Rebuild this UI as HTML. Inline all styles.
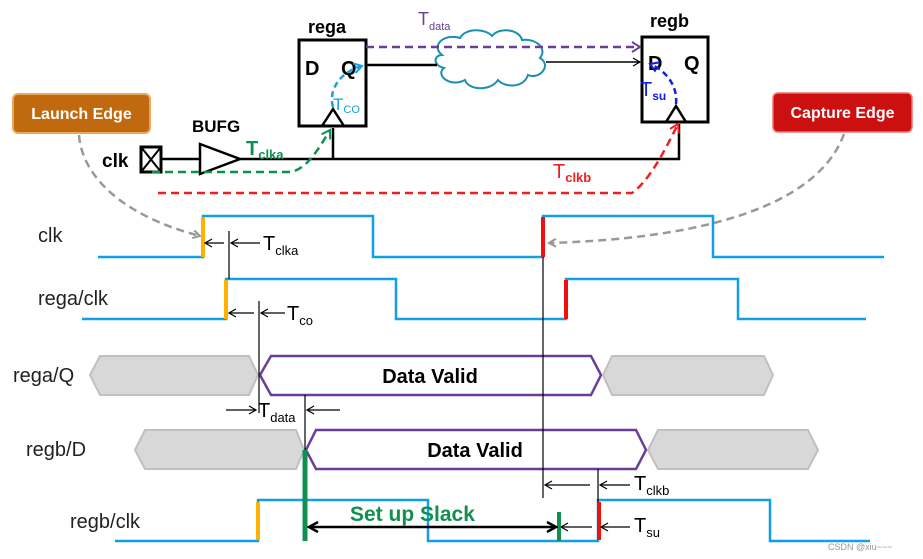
<!DOCTYPE html>
<html><head><meta charset="utf-8"><style>
html,body{margin:0;padding:0;background:#fff;}
svg{display:block;font-family:"Liberation Sans",sans-serif;}
</style></head><body>
<svg width="923" height="559" viewBox="0 0 923 559" xmlns="http://www.w3.org/2000/svg">
<defs>
<marker id="ag" markerWidth="10" markerHeight="10" refX="8" refY="5" orient="auto" markerUnits="userSpaceOnUse"><path d="M1,1 L8,5 L1,9" fill="none" stroke="#999" stroke-width="2"/></marker>
<marker id="akb" markerWidth="12" markerHeight="12" refX="10" refY="6" orient="auto-start-reverse" markerUnits="userSpaceOnUse"><path d="M1,1 L10,6 L1,11" fill="none" stroke="#000" stroke-width="2.5"/></marker>
<marker id="akr" markerWidth="10" markerHeight="10" refX="8" refY="5" orient="auto" markerUnits="userSpaceOnUse"><path d="M1,1 L8,5 L1,9" fill="none" stroke="#000" stroke-width="1.2"/></marker>
<marker id="ap" markerWidth="12" markerHeight="12" refX="9" refY="6" orient="auto" markerUnits="userSpaceOnUse"><path d="M1,1 L9,6 L1,11" fill="none" stroke="#6a3d9a" stroke-width="2"/></marker>
<marker id="agr" markerWidth="12" markerHeight="12" refX="9" refY="6" orient="auto" markerUnits="userSpaceOnUse"><path d="M1,1 L9,6 L1,11" fill="none" stroke="#109050" stroke-width="2"/></marker>
<marker id="ar" markerWidth="12" markerHeight="12" refX="9" refY="6" orient="auto" markerUnits="userSpaceOnUse"><path d="M1,1 L9,6 L1,11" fill="none" stroke="#f02020" stroke-width="2"/></marker>
<marker id="ac" markerWidth="12" markerHeight="12" refX="9" refY="6" orient="auto" markerUnits="userSpaceOnUse"><path d="M1,1 L9,6 L1,11" fill="none" stroke="#1aa0e0" stroke-width="2"/></marker>
<marker id="ab" markerWidth="12" markerHeight="12" refX="9" refY="6" orient="auto" markerUnits="userSpaceOnUse"><path d="M1,1 L9,6 L1,11" fill="none" stroke="#1020e0" stroke-width="2"/></marker>
</defs>

<text x="308" y="33" font-size="18" font-weight="bold">rega</text>
<rect x="299" y="40" width="67" height="86" fill="#fff" stroke="#000" stroke-width="3"/>
<text x="305" y="75" font-size="20" font-weight="bold">D</text>
<text x="341" y="75" font-size="20" font-weight="bold">Q</text>
<path d="M322,126 L333,109 L344,126" fill="none" stroke="#000" stroke-width="2.5"/>

<text x="650" y="27" font-size="18" font-weight="bold">regb</text>
<rect x="642" y="37" width="66" height="85" fill="#fff" stroke="#000" stroke-width="3"/>
<text x="648" y="70" font-size="20" font-weight="bold">D</text>
<text x="684" y="70" font-size="20" font-weight="bold">Q</text>
<path d="M666,122 L676,106 L686,122" fill="none" stroke="#000" stroke-width="2.5"/>

<path d="M442,55 C430,45 445,33 460,38 C465,28 485,28 492,36 C500,26 520,30 522,40 C535,38 548,48 540,58 C552,65 540,80 528,75 C524,88 505,88 498,80 C490,92 468,90 465,80 C450,88 435,75 444,68 C432,65 434,55 442,55 Z" fill="#fff" stroke="#1a8fb0" stroke-width="2"/>

<line x1="366" y1="65" x2="437" y2="65" stroke="#000" stroke-width="2.5"/>
<line x1="546" y1="62" x2="640" y2="62" stroke="#000" stroke-width="1.5" marker-end="url(#akr)"/>
<line x1="366" y1="47" x2="640" y2="47" stroke="#6a3d9a" stroke-width="2.5" stroke-dasharray="8,5" marker-end="url(#ap)"/>
<text x="418" y="25" font-size="18" fill="#6a3d9a">T<tspan font-size="11" dy="5">data</tspan></text>

<rect x="141" y="147" width="20" height="25" fill="#fff" stroke="#000" stroke-width="3"/>
<path d="M141,147 L161,172 M161,147 L141,172" stroke="#000" stroke-width="2"/>
<text x="102" y="167" font-size="19" font-weight="bold">clk</text>
<line x1="161" y1="159" x2="200" y2="159" stroke="#000" stroke-width="2.5"/>
<path d="M200,144 L240,159 L200,174 Z" fill="#fff" stroke="#000" stroke-width="2.5"/>
<text x="192" y="132" font-size="17" font-weight="bold">BUFG</text>
<path d="M240,159 L679,159 L679,124" fill="none" stroke="#000" stroke-width="2.5"/>
<line x1="333" y1="159" x2="333" y2="128" stroke="#000" stroke-width="2.5"/>

<path d="M152,172 L288,172 C305,172 318,150 330,130" fill="none" stroke="#109050" stroke-width="2.5" stroke-dasharray="8,5" marker-end="url(#agr)"/>
<text x="246" y="155" font-size="20" font-weight="bold" fill="#109050">T<tspan font-size="13" dy="4">clka</tspan></text>

<path d="M333,107 C328,90 340,72 362,66" fill="none" stroke="#1aa0e0" stroke-width="2.5" stroke-dasharray="6,4" marker-end="url(#ac)"/>
<text x="333" y="110" font-size="17" fill="#1aa0e0">T<tspan font-size="11" dy="3">CO</tspan></text>

<path d="M676,104 C678,85 665,70 650,64" fill="none" stroke="#1020e0" stroke-width="2.5" stroke-dasharray="6,4" marker-end="url(#ab)"/>
<text x="640" y="96" font-size="20" fill="#1020e0">T<tspan font-size="12" dy="4" font-weight="bold">su</tspan></text>

<path d="M158,193 L632,193 C650,180 665,150 678,124" fill="none" stroke="#f02020" stroke-width="2.5" stroke-dasharray="8,5" marker-end="url(#ar)"/>
<text x="553" y="178" font-size="20" fill="#f02020">T<tspan font-size="13" dy="4" font-weight="bold">clkb</tspan></text>

<rect x="13" y="94" width="137" height="39" rx="5" fill="#c0690f" stroke="#e8a860" stroke-width="2"/>
<text x="81.5" y="119" font-size="16" font-weight="bold" fill="#fff" text-anchor="middle">Launch Edge</text>
<rect x="773" y="93" width="139" height="39" rx="5" fill="#cc1010" stroke="#f07070" stroke-width="1.5"/>
<text x="842.5" y="118" font-size="16" font-weight="bold" fill="#fff" text-anchor="middle">Capture Edge</text>

<path d="M79,135 C82,175 120,215 200,236" fill="none" stroke="#999" stroke-width="2.5" stroke-dasharray="8,5" marker-end="url(#ag)"/>
<path d="M844,134 C820,200 720,238 549,243" fill="none" stroke="#999" stroke-width="2.5" stroke-dasharray="8,5" marker-end="url(#ag)"/>

<g font-size="20" fill="#222">
<text x="38" y="242">clk</text>
<text x="38" y="305">rega/clk</text>
<text x="13" y="382">rega/Q</text>
<text x="26" y="456">regb/D</text>
<text x="70" y="528">regb/clk</text>
</g>

<path d="M98,257 L203,257 L203,216 L373,216 L373,257 L543,257 L543,216 L713,216 L713,257 L884,257" fill="none" stroke="#10a0e8" stroke-width="2.5"/>
<line x1="203" y1="217" x2="203" y2="257" stroke="#ffb000" stroke-width="4"/>
<line x1="543" y1="217" x2="543" y2="257" stroke="#f01010" stroke-width="4"/>
<path d="M82,319 L226,319 L226,279 L396,279 L396,319 L566,319 L566,279 L738,279 L738,319 L866,319" fill="none" stroke="#10a0e8" stroke-width="2.5"/>
<line x1="226" y1="280" x2="226" y2="319" stroke="#ffb000" stroke-width="4"/>
<line x1="566" y1="280" x2="566" y2="319" stroke="#f01010" stroke-width="4"/>
<path d="M115,541 L258,541 L258,500 L428,500 L428,541 L598,541 L598,500 L770,500 L770,541 L870,541" fill="none" stroke="#10a0e8" stroke-width="2.5"/>
<line x1="258" y1="502" x2="258" y2="540" stroke="#ffb000" stroke-width="4"/>
<line x1="599" y1="502" x2="599" y2="540" stroke="#f01010" stroke-width="4"/>

<polygon points="90,375 100,356 249,356 258,375 249,395 100,395" fill="#d8d8d8" stroke="#c0c0c0" stroke-width="2"/>
<polygon points="260,375 271,356 591,356 601,375 591,395 271,395" fill="#fff" stroke="#6a3d9a" stroke-width="2.5"/>
<text x="430" y="383" font-size="20" font-weight="bold" text-anchor="middle">Data Valid</text>
<polygon points="603,375 612,356 764,356 773,375 764,395 612,395" fill="#d8d8d8" stroke="#c0c0c0" stroke-width="2"/>
<polygon points="135,450 145,430 296,430 304,450 296,469 145,469" fill="#d8d8d8" stroke="#c0c0c0" stroke-width="2"/>
<polygon points="306,450 316,430 636,430 646,450 636,469 316,469" fill="#fff" stroke="#6a3d9a" stroke-width="2.5"/>
<text x="475" y="457" font-size="20" font-weight="bold" text-anchor="middle">Data Valid</text>
<polygon points="648,450 658,430 808,430 818,450 808,469 658,469" fill="#d8d8d8" stroke="#c0c0c0" stroke-width="2"/>

<g stroke="#000" stroke-width="1.2" fill="none">
<line x1="543" y1="257" x2="543" y2="498"/>
<line x1="229" y1="231" x2="229" y2="279"/>
<line x1="224" y1="243" x2="205" y2="243" marker-end="url(#akr)"/>
<line x1="260" y1="243" x2="231" y2="243" marker-end="url(#akr)"/>
<line x1="259" y1="301" x2="259" y2="413"/>
<line x1="254" y1="313" x2="229" y2="313" marker-end="url(#akr)"/>
<line x1="285" y1="313" x2="261" y2="313" marker-end="url(#akr)"/>
<line x1="305" y1="395" x2="305" y2="450"/>
<line x1="226" y1="410" x2="256" y2="410" marker-end="url(#akr)"/>
<line x1="340" y1="410" x2="307" y2="410" marker-end="url(#akr)"/>
<line x1="598" y1="469" x2="598" y2="502"/>
<line x1="590" y1="485" x2="545" y2="485" marker-end="url(#akr)"/>
<line x1="630" y1="485" x2="600" y2="485" marker-end="url(#akr)"/>
<line x1="592" y1="527" x2="561" y2="527" marker-end="url(#akr)"/>
<line x1="630" y1="527" x2="601" y2="527" marker-end="url(#akr)"/>
</g>
<g font-size="20" fill="#000">
<text x="263" y="250">T<tspan font-size="13" dy="5">clka</tspan></text>
<text x="287" y="320">T<tspan font-size="13" dy="5">co</tspan></text>
<text x="258" y="417">T<tspan font-size="13" dy="5">data</tspan></text>
<text x="634" y="490">T<tspan font-size="13" dy="5">clkb</tspan></text>
<text x="634" y="532">T<tspan font-size="13" dy="5">su</tspan></text>
</g>

<line x1="305" y1="450" x2="305" y2="541" stroke="#109050" stroke-width="5"/>
<line x1="559" y1="512" x2="559" y2="541" stroke="#109050" stroke-width="4"/>
<line x1="309" y1="527" x2="556" y2="527" stroke="#000" stroke-width="2.5" marker-start="url(#akb)" marker-end="url(#akb)"/>
<text x="350" y="521" font-size="21" font-weight="bold" fill="#109050">Set up Slack</text>

<text x="828" y="550" font-size="9" fill="#999">CSDN @xiu~~~</text>
</svg>
</body></html>
